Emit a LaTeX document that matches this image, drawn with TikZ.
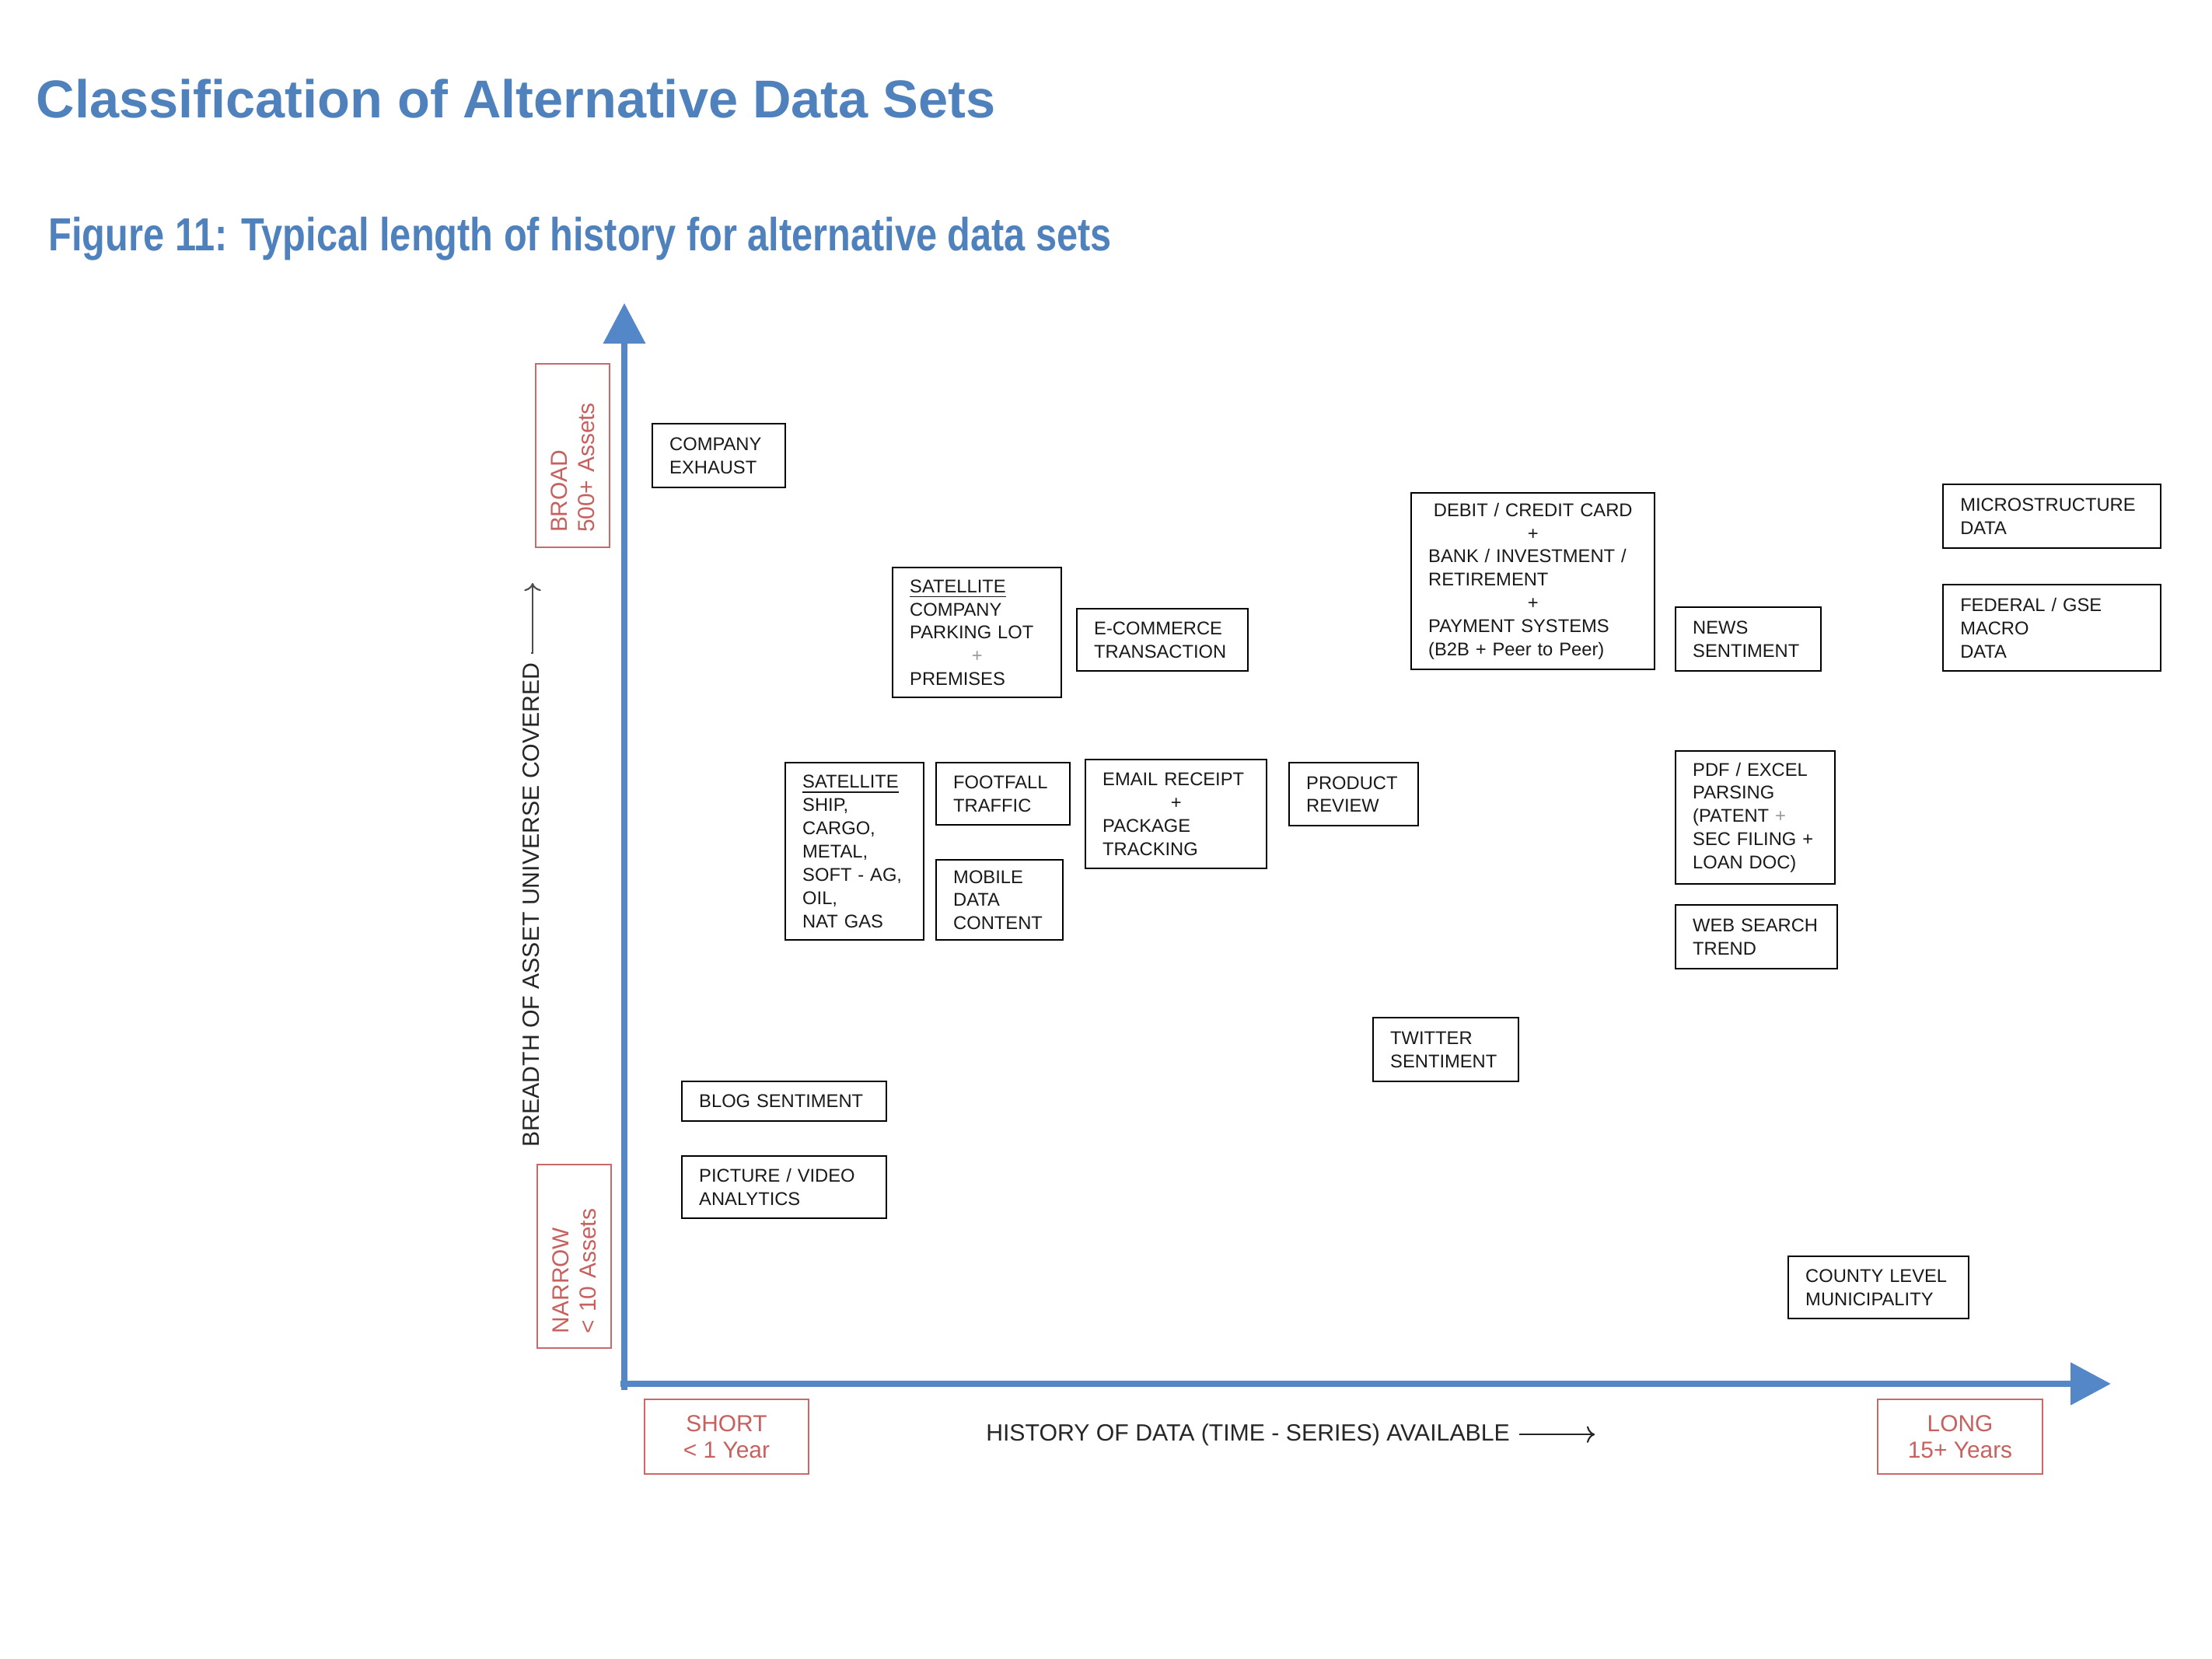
\documentclass[tikz,border=0pt]{standalone}
\usepackage{fontspec}
\setmainfont{Liberation Sans}
\usepackage{graphicx}
\usetikzlibrary{arrows.meta}

\definecolor{titleblue}{RGB}{79,129,189}
\definecolor{axisblue}{RGB}{84,135,200}
\definecolor{labelred}{RGB}{192,80,77}

\tikzset{
  databox/.style 2 args={draw, line width=0.7pt, anchor=north west, align=left,
    inner xsep=0.22cm, inner ysep=0pt, text width=#1, minimum height=#2,
    text=black!90, font=\fontsize{6.75}{8.5}\selectfont},
  redbox/.style={draw=labelred!85, line width=0.5pt, text=labelred!90,
    font=\fontsize{8.5}{9.8}\selectfont},
  axislabel/.style={font=\fontsize{8.6}{10}\selectfont, text=black!85, anchor=base},
  axisline/.style={draw=axisblue, -{Triangle[length=5.2mm,width=5.3mm]}},
}
\newcommand{\plusline}[1]{\makebox[\hsize][c]{#1}}

\begin{document}
\begin{tikzpicture}
    \useasboundingbox (0,0) rectangle (28.45,-21.34);

    \node[anchor=base west, inner sep=0pt, text=titleblue,
      font=\fontsize{19.5}{23}\selectfont\bfseries] (title) at (0.46,-1.52)
      {Classification of Alternative Data Sets};
    \node[anchor=base west, inner sep=0pt, text=titleblue,
      font=\fontsize{17}{20}\selectfont\bfseries] (subtitle) at (0.62,-3.23)
      {\scalebox{0.815}[1]{Figure 11: Typical length of history for alternative data sets}};

    \coordinate (origin) at (8.03,-17.88);
    \coordinate (ytop) at (8.03,-3.90);
    \coordinate (xleft) at (7.98,-17.80);
    \coordinate (xend) at (27.15,-17.80);
    \draw[axisline, line width=2pt] (origin) -- (ytop);
    \draw[axisline, line width=2.5pt] (xleft) -- (xend);

    \node[axislabel, rotate=90] (breadth) at (6.93,-11.64) {BREADTH OF ASSET UNIVERSE COVERED};
    \coordinate (breadthtip) at (6.85,-7.50);
    \draw[->, black!70, line width=0.6pt] (breadth.east) -- (breadthtip |- breadth.east) -- (breadthtip);
    \node[axislabel] (history) at (16.05,-18.53) {HISTORY OF DATA (TIME - SERIES) AVAILABLE};
    \path (history.east) ++(0.97,0) coordinate (historytip);
    \draw[->, black!85, line width=0.6pt] (history.east) -- (historytip);

    \node[redbox, rotate=90, align=left, text width=1.98cm, inner xsep=0.19cm,
      minimum height=0.95cm] (broad) at (7.365,-5.86) {BROAD\\500+ Assets};
    \node[redbox, rotate=90, align=left, text width=1.98cm, inner xsep=0.19cm,
      minimum height=0.95cm] (narrow) at (7.385,-16.16) {NARROW\\< 10 Assets};
    \node[redbox, align=center, minimum width=2.11cm, minimum height=0.96cm]
      (short) at (9.345,-18.48) {SHORT\\< 1 Year};
    \node[redbox, align=center, minimum width=2.12cm, minimum height=0.96cm]
      (long) at (25.21,-18.48) {LONG\\15+ Years};

    \node[databox={1.27cm}{0.82cm}] (exhaust) at (8.38,-5.44) {COMPANY\\EXHAUST};
    \node[databox={1.73cm}{1.67cm}] (parking) at (11.47,-7.29)
      {\underline{SATELLITE}\\COMPANY\\PARKING LOT\\\plusline{\textcolor{black!40}{+}}\\PREMISES};
    \node[databox={1.76cm}{0.80cm}] (ecommerce) at (13.84,-7.82) {E-COMMERCE\\TRANSACTION};
    \node[databox={2.69cm}{2.27cm}] (cards) at (18.14,-6.33)
      {\plusline{DEBIT / CREDIT CARD}\\\plusline{+}\\BANK / INVESTMENT /\\RETIREMENT\\\plusline{+}\\PAYMENT SYSTEMS\\(B2B + Peer to Peer)};
    \node[databox={1.43cm}{0.82cm}] (news) at (21.54,-7.80) {NEWS\\SENTIMENT};
    \node[databox={2.36cm}{0.82cm}] (micro) at (24.98,-6.22) {MICROSTRUCTURE\\DATA};
    \node[databox={2.36cm}{1.11cm}] (macro) at (24.98,-7.51) {FEDERAL / GSE\\MACRO\\DATA};

    \node[databox={1.34cm}{2.28cm}] (shipping) at (10.09,-9.80)
      {\underline{SATELLITE}\\SHIP,\\CARGO,\\METAL,\\SOFT - AG,\\OIL,\\NAT GAS};
    \node[databox={1.28cm}{0.80cm}] (footfall) at (12.03,-9.80) {FOOTFALL\\TRAFFIC};
    \node[databox={1.19cm}{1.03cm}] (mobile) at (12.03,-11.05) {MOBILE\\DATA\\CONTENT};
    \node[databox={1.89cm}{1.40cm}] (email) at (13.95,-9.76)
      {EMAIL RECEIPT\\\plusline{+}\\PACKAGE\\TRACKING};
    \node[databox={1.22cm}{0.81cm}] (review) at (16.57,-9.80) {PRODUCT\\REVIEW};
    \node[databox={1.61cm}{1.71cm}] (pdf) at (21.54,-9.65)
      {PDF / EXCEL\\PARSING\\(PATENT \textcolor{black!40}{+}\\SEC FILING +\\LOAN DOC)};
    \node[databox={1.64cm}{0.82cm}] (websearch) at (21.54,-11.63) {WEB SEARCH\\TREND};
    \node[databox={1.43cm}{0.82cm}] (twitter) at (17.65,-13.08) {TWITTER\\SENTIMENT};
    \node[databox={2.19cm}{0.51cm}] (blog) at (8.76,-13.90) {BLOG SENTIMENT};
    \node[databox={2.19cm}{0.80cm}] (video) at (8.76,-14.86) {PICTURE / VIDEO\\ANALYTICS};
    \node[databox={1.88cm}{0.80cm}] (county) at (22.99,-16.15) {COUNTY LEVEL\\MUNICIPALITY};
\end{tikzpicture}
\end{document}
